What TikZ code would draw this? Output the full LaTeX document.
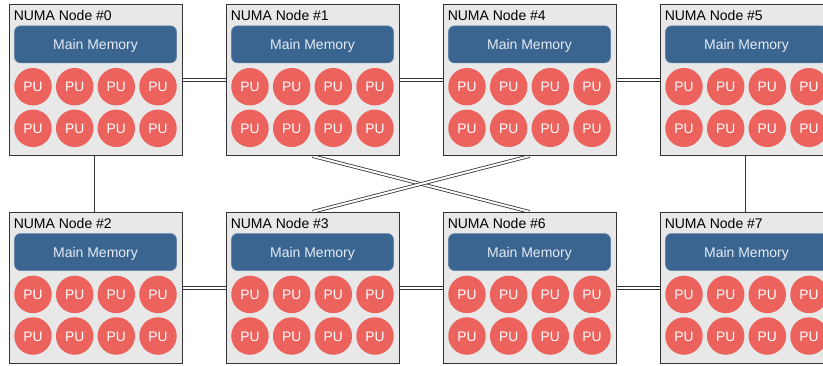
\documentclass[tikz,border=0pt]{standalone}
\usepackage{fontspec}
\setmainfont{Liberation Sans}
\usepackage{tikz}
\usetikzlibrary{backgrounds}

\definecolor{boxgray}{RGB}{232,232,232}
\definecolor{memblue}{RGB}{58,101,145}
\definecolor{memtext}{RGB}{228,235,243}
\definecolor{pured}{RGB}{236,99,94}

\tikzset{
  numa/.style={draw=black!80, fill=boxgray, line width=0.9pt, minimum width=173pt, minimum height=151pt, inner sep=0pt},
  numalabel/.style={anchor=base west, inner sep=0pt, font=\fontsize{14}{16}\selectfont},
  memory/.style={fill=memblue, draw=memblue!80!white, line width=0.6pt, rounded corners=6pt, minimum width=162pt, minimum height=37pt, inner sep=0pt, text=memtext, text height=10pt, text depth=0pt, font=\fontsize{14}{16}\selectfont},
  pu/.style={circle, fill=pured, minimum size=37.5pt, inner sep=0pt, text=white, text height=10pt, text depth=0pt, font=\fontsize{13.8}{16}\selectfont},
  link/.style={draw=black!80, line width=0.8pt, double, double distance=2pt}
}

\begin{document}
\begin{tikzpicture}[x=1pt,y=-1pt]
\useasboundingbox (0,0) rectangle (823,365);
\clip (0,0) rectangle (823,365);

\foreach \n/\x/\y in {0/95.5/80.1,1/312.5/80.1,4/529.5/80.1,5/746.5/80.1,2/95.5/287.8,3/312.5/287.8,6/529.5/287.8,7/746.5/287.8}{
  \node[numa] (n\n) at (\x,\y) {};
  \node[numalabel] (l\n) at ([shift={(5,16.8)}]n\n.north west) {NUMA Node \#\n};
  \node[memory] (m\n) at ([shift={(0,40.2)}]n\n.north) {Main Memory};
  \foreach \dx [count=\i] in {-62.5,-20.8,20.8,62.5}{
    \node[pu] (n\n-a\i) at ([shift={(\dx,6.6)}]n\n.center) {PU};
    \node[pu] (n\n-b\i) at ([shift={(\dx,48.2)}]n\n.center) {PU};
  }
}

\begin{scope}[on background layer]
\draw[link] (n0) -- (n1);
\draw[link] (n1) -- (n4);
\draw[link] (n4) -- (n5);

\draw[link] (n2) -- (n3);
\draw[link] (n3) -- (n6);
\draw[link] (n6) -- (n7);

\draw[link] (n0) -- (n2);
\draw[link] (n5) -- (n7);

\draw[link] (n1.south) -- (n6.north);
\draw[link] (n4.south) -- (n3.north);
\end{scope}

\end{tikzpicture}
\end{document}
